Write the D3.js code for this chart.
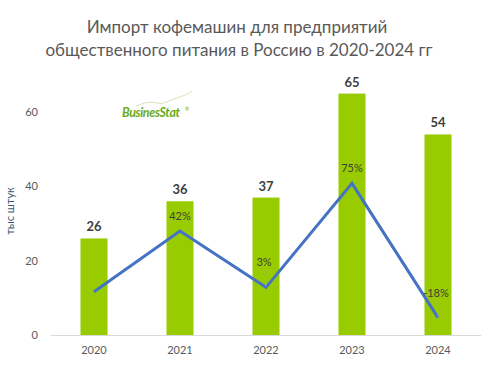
<!DOCTYPE html>
<html><head><meta charset="utf-8">
<script src="https://cdn.jsdelivr.net/npm/d3@7"></script>
<style>
html,body{margin:0;padding:0;background:#fff;}
svg{display:block;font-family:Lato,"Open Sans",sans-serif;}
</style></head>
<body>
<script>
const years = ["2020","2021","2022","2023","2024"];
const imports = [26, 36, 37, 65, 54];
const growth = [0, 42, 3, 75, -18];
const growthLabels = ["", "42%", "3%", "75%", "-18%"];
const yTicks = [0, 20, 40, 60];
const titleLines = ["Импорт кофемашин для предприятий", "общественного питания в  Россию в 2020-2024 гг"];
const yTitle = "тыс  штук";
const leaderYears = ["2022", "2024"];

const W = 502, H = 378;
const svg = d3.select("body").append("svg").attr("width", W).attr("height", H);

const x = d3.scaleBand().domain(years).range([51, 481]).paddingInner(0.686).paddingOuter(0.343);
const y = d3.scaleLinear().domain([0, 70]).range([335, 75]);
const y2 = d3.scaleLinear().domain([-30, 150]).range([335, 75]);

// title
svg.append("g").selectAll("text").data(titleLines).join("text")
  .attr("x", (d, i) => i === 0 ? 237 : 239)
  .attr("y", (d, i) => 33 + i * 22.5)
  .attr("text-anchor", "middle")
  .attr("font-size", 17)
  .attr("fill", "#595959")
  .text(d => d);

// logo
const logo = svg.append("g");
logo.append("path")
  .attr("d", "M136,106 C144,103 150,101 157,103 C164,105 169,100 177,98 C183,96 188,94 192,91")
  .attr("fill", "none").attr("stroke", "#c8dca8").attr("stroke-width", 0.8);
logo.append("text").attr("x", 122).attr("y", 117)
  .attr("font-size", 12.5).attr("font-weight", "bold").attr("font-style", "italic")
  .attr("fill", "#6aac1a").attr("letter-spacing", -0.4)
  .text("BusinesStat");
logo.append("text").attr("x", 185).attr("y", 111).attr("font-size", 5).attr("fill", "#6aac1a").text("®");

// y axis tick labels
svg.append("g").selectAll("text").data(yTicks).join("text")
  .attr("x", 38).attr("y", d => y(d) + 4)
  .attr("text-anchor", "end").attr("font-size", 11).attr("fill", "#595959")
  .text(d => d);

// y title
svg.append("text")
  .attr("transform", "translate(14,211) rotate(-90)")
  .attr("text-anchor", "middle").attr("font-size", 11).attr("fill", "#44546a")
  .text(yTitle);

// bars
svg.append("g").selectAll("rect").data(years).join("rect")
  .attr("x", d => x(d)).attr("width", x.bandwidth())
  .attr("y", (d, i) => y(imports[i])).attr("height", (d, i) => y(0) - y(imports[i]))
  .attr("fill", "#99cc00");

// x axis line
svg.append("line").attr("x1", 51).attr("x2", 481).attr("y1", y(0) + 0.5).attr("y2", y(0) + 0.5)
  .attr("stroke", "#d9d9d9").attr("stroke-width", 1);

// x labels
svg.append("g").selectAll("text").data(years).join("text")
  .attr("x", d => x(d) + x.bandwidth() / 2).attr("y", 354)
  .attr("text-anchor", "middle").attr("font-size", 11).attr("fill", "#595959")
  .text(d => d);

// value labels
svg.append("g").selectAll("text").data(years).join("text")
  .attr("x", d => x(d) + x.bandwidth() / 2).attr("y", (d, i) => y(imports[i]) - 7)
  .attr("text-anchor", "middle").attr("font-size", 13).attr("font-weight", "bold").attr("fill", "#404040")
  .text((d, i) => imports[i]);

// line
const cx = d => x(d) + x.bandwidth() / 2;
const line = d3.line().x(d => cx(d.year)).y(d => y2(d.v));
const pts = years.map((yr, i) => ({year: yr, v: growth[i], label: growthLabels[i]}));
svg.append("path").datum(pts).attr("d", line)
  .attr("fill", "none").attr("stroke", "#4472c4").attr("stroke-width", 3).attr("stroke-linejoin", "miter");

// leader lines
const lead = pts.filter(p => leaderYears.includes(p.year));
svg.append("g").selectAll("line").data(lead).join("line")
  .attr("x1", p => cx(p.year) - 1).attr("x2", p => cx(p.year))
  .attr("y1", p => y2(p.v) - 17).attr("y2", p => y2(p.v) - 1)
  .attr("stroke", "#a6a6a6").attr("stroke-width", 0.8);

// growth labels
svg.append("g").selectAll("text").data(pts.filter(p => p.label)).join("text")
  .attr("x", p => cx(p.year) - (leaderYears.includes(p.year) ? 2 : 0))
  .attr("y", p => y2(p.v) - (leaderYears.includes(p.year) ? 21 : 11))
  .attr("text-anchor", "middle").attr("font-size", 11).attr("fill", "#404040")
  .text(p => p.label);
</script>
</body></html>
